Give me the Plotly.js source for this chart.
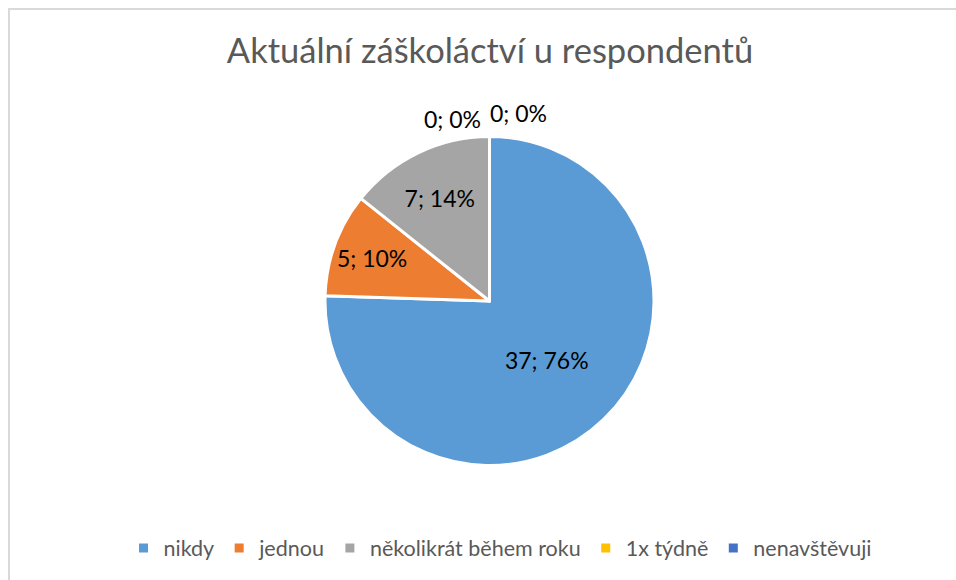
<!DOCTYPE html>
<html>
<head>
<meta charset="utf-8">
<script src="https://cdn.plot.ly/plotly-3.0.1.min.js"></script>
<style>
  html, body { margin: 0; padding: 0; background: #fff; }
  #wrap { position: relative; width: 956px; height: 580px; overflow: hidden; }
  #frame { position: absolute; left: 8px; top: 8px; width: 1000px; height: 700px; border-left: 2px solid #d9d9d9; border-top: 2px solid #d9d9d9; pointer-events: none; }
  #chart { position: absolute; left: 0; top: 0; width: 956px; height: 580px; }
</style>
</head>
<body>
<div id="wrap">
  <div id="chart"></div>
  <div id="frame"></div>
</div>
<script>
const categories = ["nikdy", "jednou", "několikrát během roku", "1x týdně", "nenavštěvuji"];
const counts = [37, 5, 7, 0, 0];
const colors = ["#5B9BD5", "#ED7D31", "#A5A5A5", "#FFC000", "#4472C4"];
const chartTitle = "Aktuální záškoláctví u respondentů";

const W = 956, H = 580;
const cx = 489.5, cy = 301, r = 164.5;
const total = counts.reduce((a, b) => a + b, 0);

const trace = {
  type: 'pie',
  labels: categories,
  values: counts,
  sort: false,
  direction: 'clockwise',
  rotation: 0,
  marker: { colors: colors, line: { color: '#ffffff', width: 3 } },
  texttemplate: '%{value}; %{percent:.0%}',
  textposition: counts.map(v => v > 0 ? 'inside' : 'none'),
  insidetextorientation: 'horizontal',
  textfont: { family: 'Lato, sans-serif', size: 23, color: '#000000' },
  hoverinfo: 'label+value+percent',
  domain: { x: [(cx - r) / W, (cx + r) / W], y: [(H - cy - r) / H, (H - cy + r) / H] }
};

// labels for zero-valued slices (they sit at the top of the pie, side by side)
const zeroIdx = counts.map((v, i) => v === 0 ? i : -1).filter(i => i >= 0);
const annotations = zeroIdx.map((i, k) => ({
  xref: 'paper', yref: 'paper',
  x: (cx + (k === 0 ? -37 : 29)) / W,
  y: (H - (cy - r - (k === 0 ? 18 : 23))) / H,
  xanchor: 'center', yanchor: 'middle',
  showarrow: false,
  text: counts[i] + '; ' + Math.round(100 * counts[i] / total) + '%',
  font: { family: 'Lato, sans-serif', size: 23, color: '#000000' }
}));

const layout = {
  width: W, height: H,
  margin: { l: 0, r: 0, t: 0, b: 0 },
  paper_bgcolor: '#ffffff',
  title: {
    text: chartTitle,
    font: { family: 'Lato, sans-serif', size: 34.5, color: '#595959' },
    x: 490 / W, xanchor: 'center', xref: 'paper',
    y: 1 - 51 / H, yanchor: 'middle', yref: 'container'
  },
  annotations: annotations,
  showlegend: true,
  legend: {
    orientation: 'h', x: 500 / W, xanchor: 'center', y: (H - 548) / H, yanchor: 'middle',
    font: { family: 'Lato, sans-serif', size: 21.5, color: '#595959' },
    itemclick: false, itemdoubleclick: false, traceorder: 'normal'
  }
};

Plotly.newPlot('chart', [trace], layout, { displayModeBar: false, staticPlot: true });
</script>
</body>
</html>
